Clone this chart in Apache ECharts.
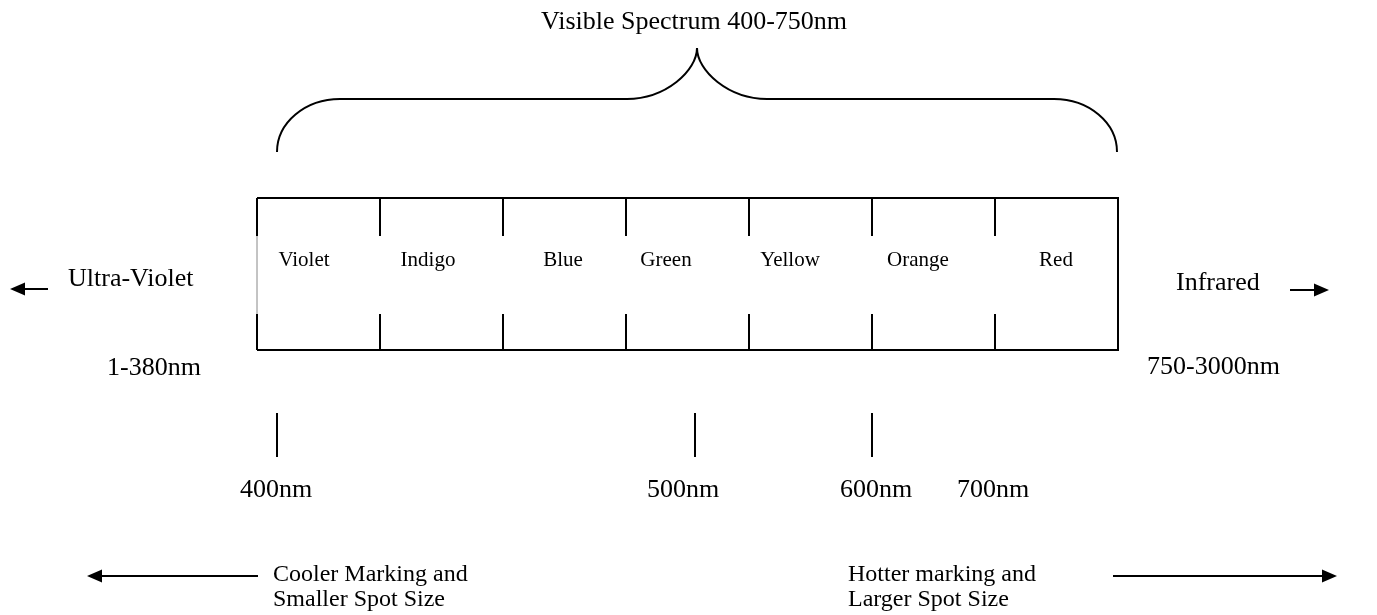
<!DOCTYPE html>
<html>
<head>
<meta charset="utf-8">
<script src="https://cdn.jsdelivr.net/npm/echarts@6/dist/echarts.min.js"></script>
<style>
html,body{margin:0;padding:0;background:#fff;}
#chart{width:1377px;height:615px;}
</style>
</head>
<body>
<div id="chart"></div>
<script>
// ---- diagram data (diagram units: x 0..1377, y 0..615 from top) ----
const titleText = 'Visible Spectrum 400-750nm';
const bandNames = ['Violet', 'Indigo', 'Blue', 'Green', 'Yellow', 'Orange', 'Red'];
const bandEdges = [257, 380, 503, 626, 749, 872, 995, 1118];
const bandLabelX = [304, 428, 563, 666, 790, 918, 1056];
const nmLabels = ['400nm', '500nm', '600nm', '700nm'];
const nmLabelX = [276, 683, 876, 993];
const nmTickX = [277, 695, 872];
const sideLabels = ['Ultra-Violet', 'Infrared', '1-380nm', '750-3000nm'];
const sideLabelX = [68, 1176, 107, 1147];
const sideLabelY = [279, 283, 368, 367];
const noteLines = [['Cooler Marking and', 'Smaller Spot Size'], ['Hotter marking and', 'Larger Spot Size']];
const noteX = [273, 848];
const arrowFromX = [48, 1290, 258, 1113];
const arrowToX = [10, 1329, 87, 1337];
const arrowY = [289, 290, 576, 576];
const braceX = [277, 340, 627, 697];   // left half; mirrored around peak
const braceY = [152, 99, 48];

// layout constants
const BOX_TOP = 198, BOX_BOTTOM = 350, STUB_TOP = 236, STUB_BOTTOM = 314;
const TICK_TOP = 413, TICK_BOTTOM = 457, NM_Y = 490, BAND_Y = 260, TITLE_Y = 22;
const SERIF = '"Liberation Serif", "Times New Roman", serif';
const INK = '#000';

const chart = echarts.init(document.getElementById('chart'), null, {renderer: 'canvas'});

function seg(api, x1, y1, x2, y2, w, color) {
  const a = api.coord([x1, y1]), b = api.coord([x2, y2]);
  return {type: 'line', shape: {x1: a[0], y1: a[1], x2: b[0], y2: b[1]},
          style: {stroke: color || INK, lineWidth: w || 2}};
}
function txt(api, x, y, text, size, align) {
  const p = api.coord([x, y]);
  return {type: 'text', x: p[0], y: p[1],
          style: {text: text, font: size + 'px ' + SERIF, fill: INK,
                  align: align || 'center', verticalAlign: 'middle'}};
}

const option = {
  animation: false,
  backgroundColor: '#fff',
  grid: {left: 0, right: 0, top: 0, bottom: 0},
  xAxis: {type: 'value', min: 0, max: 1377, show: false},
  yAxis: {type: 'value', min: 0, max: 615, inverse: true, show: false},
  series: [
    // spectrum box
    {
      type: 'custom', silent: true,
      data: bandEdges.map((x, i) => [x, i]),
      renderItem: function (params, api) {
        const i = params.dataIndex, x = bandEdges[i];
        const ch = [];
        if (i < bandEdges.length - 1) {
          ch.push(seg(api, x, BOX_TOP, bandEdges[i + 1], BOX_TOP));
          ch.push(seg(api, x, BOX_BOTTOM, bandEdges[i + 1], BOX_BOTTOM));
        }
        if (i === bandEdges.length - 1) {
          ch.push(seg(api, x, BOX_TOP - 1, x, BOX_BOTTOM + 1));
        } else {
          ch.push(seg(api, x, BOX_TOP, x, STUB_TOP));
          ch.push(seg(api, x, STUB_BOTTOM, x, BOX_BOTTOM));
          if (i === 0) ch.push(seg(api, x, STUB_TOP, x, STUB_BOTTOM, 1, '#888'));
        }
        return {type: 'group', children: ch};
      }
    },
    // band labels
    {
      type: 'custom', silent: true,
      data: bandNames.map((n, i) => [bandLabelX[i], BAND_Y]),
      renderItem: function (params, api) {
        const i = params.dataIndex;
        return txt(api, bandLabelX[i], BAND_Y, bandNames[i], 21);
      }
    },
    // brace
    {
      type: 'custom', silent: true,
      data: [[braceX[3], braceY[2]]],
      renderItem: function (params, api) {
        const k = 0.5523;
        const peak = braceX[3];
        const ch = [];
        [1, -1].forEach(function (s) {
          const X = braceX.map(v => peak + s * (v - peak));
          const c = (x, y) => api.coord([x, y]);
          // end curve
          let p0 = c(X[0], braceY[0]), p1 = c(X[1], braceY[1]);
          let cp1 = c(X[0], braceY[0] - k * (braceY[0] - braceY[1]));
          let cp2 = c(X[1] - k * (X[1] - X[0]), braceY[1]);
          ch.push({type: 'bezierCurve', shape: {x1: p0[0], y1: p0[1], x2: p1[0], y2: p1[1],
            cpx1: cp1[0], cpy1: cp1[1], cpx2: cp2[0], cpy2: cp2[1]}, style: {stroke: INK, lineWidth: 2, fill: null}});
          ch.push(seg(api, X[1], braceY[1], X[2], braceY[1]));
          // centre curve
          p0 = c(X[2], braceY[1]); p1 = c(X[3], braceY[2]);
          cp1 = c(X[2] + k * (X[3] - X[2]), braceY[1]);
          cp2 = c(X[3], braceY[1] - k * (braceY[1] - braceY[2]));
          ch.push({type: 'bezierCurve', shape: {x1: p0[0], y1: p0[1], x2: p1[0], y2: p1[1],
            cpx1: cp1[0], cpy1: cp1[1], cpx2: cp2[0], cpy2: cp2[1]}, style: {stroke: INK, lineWidth: 2, fill: null}});
        });
        return {type: 'group', children: ch};
      }
    },
    // wavelength ticks
    {
      type: 'custom', silent: true,
      data: nmTickX.map(x => [x, TICK_TOP]),
      renderItem: function (params, api) {
        const x = nmTickX[params.dataIndex];
        return seg(api, x, TICK_TOP, x, TICK_BOTTOM);
      }
    },
    // wavelength labels
    {
      type: 'custom', silent: true,
      data: nmLabels.map((n, i) => [nmLabelX[i], NM_Y]),
      renderItem: function (params, api) {
        const i = params.dataIndex;
        return txt(api, nmLabelX[i], NM_Y, nmLabels[i], 26);
      }
    },
    // side labels
    {
      type: 'custom', silent: true,
      data: sideLabels.map((n, i) => [sideLabelX[i], sideLabelY[i]]),
      renderItem: function (params, api) {
        const i = params.dataIndex;
        return txt(api, sideLabelX[i], sideLabelY[i], sideLabels[i], 26, 'left');
      }
    },
    // notes
    {
      type: 'custom', silent: true,
      data: noteX.map(x => [x, 575]),
      renderItem: function (params, api) {
        const i = params.dataIndex;
        return {type: 'group', children: [
          txt(api, noteX[i], 575, noteLines[i][0], 24, 'left'),
          txt(api, noteX[i], 600, noteLines[i][1], 24, 'left')
        ]};
      }
    },
    // arrows
    {
      type: 'custom', silent: true,
      data: arrowFromX.map((x, i) => [x, arrowY[i]]),
      renderItem: function (params, api) {
        const i = params.dataIndex;
        const a = api.coord([arrowFromX[i], arrowY[i]]);
        const b = api.coord([arrowToX[i], arrowY[i]]);
        const dir = b[0] > a[0] ? 1 : -1;
        const L = 15, W = 6.5;
        return {type: 'group', children: [
          {type: 'line', shape: {x1: a[0], y1: a[1], x2: b[0] - dir * (L - 2), y2: b[1]},
           style: {stroke: INK, lineWidth: 2}},
          {type: 'polygon', shape: {points: [[b[0], b[1]], [b[0] - dir * L, b[1] - W], [b[0] - dir * L, b[1] + W]]},
           style: {fill: INK}}
        ]};
      }
    },
    // title
    {
      type: 'custom', silent: true,
      data: [[694, TITLE_Y]],
      renderItem: function (params, api) {
        return txt(api, 694, TITLE_Y, titleText, 26);
      }
    }
  ]
};
chart.setOption(option);
</script>
</body>
</html>
